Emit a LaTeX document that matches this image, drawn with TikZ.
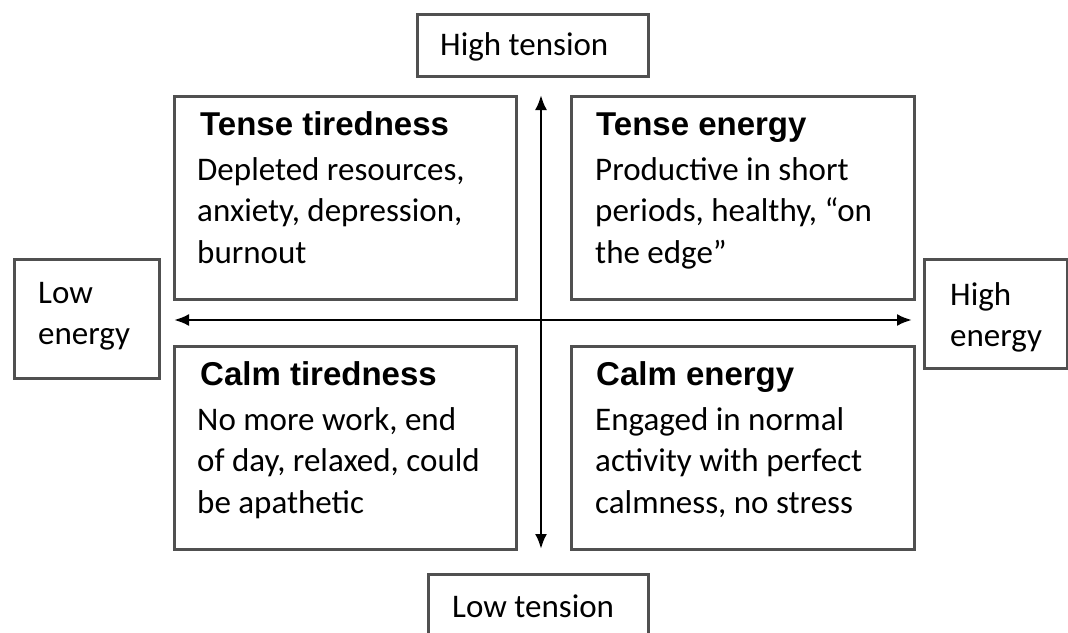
\documentclass[tikz,border=0pt]{standalone}
\usepackage{fontspec}
\setmainfont{Carlito}
\newfontfamily\headfont{Liberation Sans}
\usetikzlibrary{arrows.meta}
\definecolor{boxline}{HTML}{505050}
\tikzset{
  x=1pt, y=-1pt,
  framebox/.style={draw=boxline, line width=2.9pt, inner sep=0pt, anchor=north west},
  headtext/.style={anchor=base west, inner sep=0pt, font=\headfont\bfseries\fontsize{33}{40}\selectfont},
  bodytext/.style={anchor=base west, inner sep=0pt},
  axis/.style={line width=2.6pt, black, {Latex[length=15pt,width=12pt]}-{Latex[length=15pt,width=12pt]}},
}
\newcommand{\bodylines}[1]{\parbox[t]{320pt}{\raggedright\fontsize{33}{41.5}\selectfont #1}}
\begin{document}
\begin{tikzpicture}
\useasboundingbox (0,0) rectangle (1068,632);
\fill[white] (0,0) rectangle (1068,632);

% quadrant frames
\node[framebox, minimum width=342pt, minimum height=203pt] (TT) at (173,95) {};
\node[framebox, minimum width=343pt, minimum height=203pt] (TE) at (570,95) {};
\node[framebox, minimum width=342pt, minimum height=203pt] (CT) at (173,345) {};
\node[framebox, minimum width=343pt, minimum height=203pt] (CE) at (570,345) {};

% axis end labels
\node[framebox, minimum width=231pt, minimum height=62pt] (HT) at (416,13) {};
\node[framebox, minimum width=220pt, minimum height=72pt] (LT) at (427,573) {};
\node[framebox, minimum width=145pt, minimum height=119pt] (LE) at (13,258) {};
\node[framebox, minimum width=143pt, minimum height=109pt] (HE) at (923,258) {};

\node[bodytext] (HTt) at (440,55) {\fontsize{33}{41.5}\selectfont High tension};
\node[bodytext] (LTt) at (452,617) {\fontsize{33}{41.5}\selectfont Low tension};
\node[bodytext] (LEt) at (38,303) {\bodylines{Low\\energy}};
\node[bodytext] (HEt) at (950,305) {\bodylines{High\\energy}};

% quadrant contents
\node[headtext] (TTh) at (200,135) {Tense tiredness};
\node[bodytext] (TTb) at (197,180) {\bodylines{Depleted resources,\\anxiety, depression,\\burnout}};

\node[headtext] (TEh) at (596,135) {Tense energy};
\node[bodytext] (TEb) at (595,180) {\bodylines{Productive in short\\periods, healthy, \textquotedblleft on\\the edge\textquotedblright}};

\node[headtext] (CTh) at (200,385) {Calm tiredness};
\node[bodytext] (CTb) at (197,430) {\bodylines{No more work, end\\of day, relaxed, could\\be apathetic}};

\node[headtext] (CEh) at (596,385) {Calm energy};
\node[bodytext] (CEb) at (595,430) {\bodylines{Engaged in normal\\activity with perfect\\calmness, no stress}};

% axes
\coordinate (vtop) at (541,95);
\coordinate (vbot) at (541,549);
\coordinate (hleft) at (174,320);
\coordinate (hright) at (912,320);
\draw[axis] (vbot) -- (vtop);
\draw[axis] (hleft) -- (hright);
\end{tikzpicture}
\end{document}
